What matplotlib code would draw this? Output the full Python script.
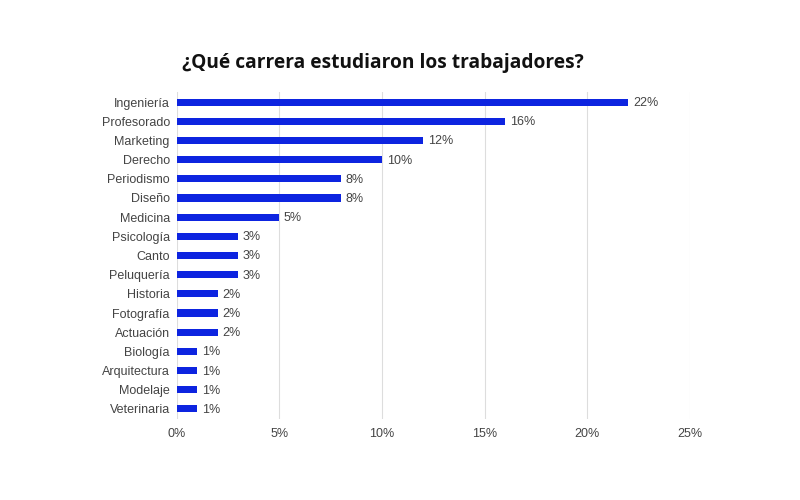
import matplotlib
matplotlib.use("Agg")
import matplotlib.pyplot as plt
from matplotlib.ticker import FuncFormatter

categories = ["Ingeniería", "Profesorado", "Marketing", "Derecho", "Periodismo", "Diseño",
              "Medicina", "Psicología", "Canto", "Peluquería", "Historia", "Fotografía",
              "Actuación", "Biología", "Arquitectura", "Modelaje", "Veterinaria"]
values = [22, 16, 12, 10, 8, 8, 5, 3, 3, 3, 2, 2, 2, 1, 1, 1, 1]
xticks = [0, 5, 10, 15, 20, 25]
title = "¿Qué carrera estudiaron los trabajadores?"

fig = plt.figure(figsize=(8, 5), dpi=100)
ax = fig.add_axes([0.221, 0.163, 0.6415, 0.652])

ypos = list(range(len(categories)))
ax.barh(ypos, values, height=0.37, color="#0d24e0", zorder=3)
for y, v in zip(ypos, values):
    ax.text(v + 0.22, y + 0.05, f"{v}%", va="center", ha="left", fontsize=9,
            color="#444444", family="Liberation Sans")

ax.set_ylim(len(categories) - 0.5, -0.5)
ax.set_xlim(0, 25)
ax.set_yticks(ypos)
ax.set_yticklabels(categories, family="Liberation Sans", fontsize=9, color="#444444")
ax.set_xticks(xticks)
ax.xaxis.set_major_formatter(FuncFormatter(lambda x, p: f"{int(x)}%"))
for lbl in ax.get_xticklabels():
    lbl.set_family("Liberation Sans")
    lbl.set_fontsize(9)
    lbl.set_color("#444444")
ax.tick_params(axis="y", length=0, pad=5)
ax.tick_params(axis="x", length=0, pad=7)
ax.grid(axis="x", color="#dddddd", linewidth=0.8, zorder=0)
for s in ax.spines.values():
    s.set_visible(False)

fig.text(0.479, 0.874, title, ha="center", va="center", fontsize=13.8,
         fontweight="bold", family="Open Sans", color="#111111")

fig.savefig("out.png", dpi=100, facecolor="white")
